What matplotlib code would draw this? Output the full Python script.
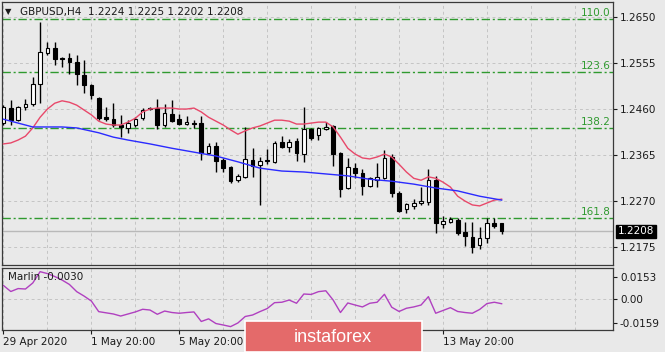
import numpy as np
import matplotlib
matplotlib.use('Agg')
import matplotlib.pyplot as plt
from matplotlib.patches import Rectangle

W, H = 665, 352
BG = '#e9e9e9'

# GBPUSD H4 candles, 29 Apr 20:00 .. 15 May 04:00
opens = [1.2431, 1.2462, 1.2437, 1.2464, 1.2470, 1.2512, 1.2576, 1.2586, 1.2565, 1.2565,
         1.2557, 1.2530, 1.2510, 1.2483, 1.2443, 1.2439, 1.2427, 1.2421, 1.2427, 1.2441,
         1.2462, 1.2462, 1.2427, 1.2450, 1.2439, 1.2429, 1.2431, 1.2431, 1.2369, 1.2384,
         1.2355, 1.2340, 1.2313, 1.2320, 1.2355, 1.2344, 1.2355, 1.2351, 1.2392, 1.2381,
         1.2394, 1.2367, 1.2419, 1.2406, 1.2419, 1.2425, 1.2369, 1.2297, 1.2338, 1.2328,
         1.2301, 1.2313, 1.2317, 1.2361, 1.2286, 1.2253, 1.2260, 1.2266, 1.2268, 1.2313,
         1.2223, 1.2227, 1.2231, 1.2206, 1.2196, 1.2179, 1.2194, 1.2225, 1.2224]
highs = [1.2468, 1.2479, 1.2466, 1.2481, 1.2526, 1.2640, 1.2598, 1.2598, 1.2567, 1.2576,
         1.2572, 1.2561, 1.2512, 1.2485, 1.2464, 1.2472, 1.2448, 1.2437, 1.2443, 1.2462,
         1.2464, 1.2481, 1.2470, 1.2479, 1.2450, 1.2446, 1.2437, 1.2446, 1.2390, 1.2392,
         1.2359, 1.2342, 1.2326, 1.2423, 1.2379, 1.2361, 1.2377, 1.2394, 1.2404, 1.2398,
         1.2400, 1.2464, 1.2421, 1.2423, 1.2433, 1.2427, 1.2371, 1.2359, 1.2348, 1.2336,
         1.2320, 1.2348, 1.2375, 1.2367, 1.2291, 1.2266, 1.2274, 1.2299, 1.2336, 1.2322,
         1.2239, 1.2237, 1.2235, 1.2227, 1.2227, 1.2216, 1.2235, 1.2235, 1.2225]
lows = [1.2427, 1.2427, 1.2435, 1.2458, 1.2466, 1.2472, 1.2572, 1.2551, 1.2547, 1.2532,
        1.2510, 1.2493, 1.2481, 1.2437, 1.2435, 1.2423, 1.2402, 1.2410, 1.2423, 1.2437,
        1.2458, 1.2419, 1.2423, 1.2433, 1.2427, 1.2427, 1.2421, 1.2355, 1.2367, 1.2330,
        1.2330, 1.2307, 1.2309, 1.2317, 1.2320, 1.2262, 1.2346, 1.2348, 1.2379, 1.2371,
        1.2353, 1.2351, 1.2396, 1.2396, 1.2417, 1.2342, 1.2278, 1.2295, 1.2317, 1.2282,
        1.2299, 1.2299, 1.2315, 1.2278, 1.2247, 1.2245, 1.2253, 1.2262, 1.2262, 1.2204,
        1.2214, 1.2225, 1.2200, 1.2177, 1.2163, 1.2171, 1.2183, 1.2214, 1.2202]
closes = [1.2464, 1.2437, 1.2464, 1.2470, 1.2512, 1.2578, 1.2586, 1.2563, 1.2563, 1.2557,
          1.2532, 1.2510, 1.2489, 1.2441, 1.2439, 1.2427, 1.2423, 1.2431, 1.2439, 1.2458,
          1.2460, 1.2427, 1.2452, 1.2435, 1.2429, 1.2433, 1.2430, 1.2369, 1.2384, 1.2353,
          1.2338, 1.2311, 1.2322, 1.2357, 1.2342, 1.2353, 1.2353, 1.2390, 1.2381, 1.2392,
          1.2369, 1.2419, 1.2400, 1.2421, 1.2423, 1.2367, 1.2295, 1.2340, 1.2328, 1.2301,
          1.2317, 1.2320, 1.2359, 1.2286, 1.2249, 1.2264, 1.2266, 1.2270, 1.2313, 1.2225,
          1.2229, 1.2233, 1.2204, 1.2198, 1.2175, 1.2194, 1.2225, 1.2218, 1.2208]

# fast MA (red), one value per bar
ma_fast = [1.2388, 1.2390, 1.2396, 1.2404, 1.2421, 1.2443, 1.2460, 1.2472, 1.2477, 1.2474,
           1.2468, 1.2458, 1.2448, 1.2435, 1.2429, 1.2427, 1.2427, 1.2433, 1.2441, 1.2454,
           1.2460, 1.2462, 1.2462, 1.2462, 1.2460, 1.2460, 1.2462, 1.2454, 1.2443, 1.2435,
           1.2427, 1.2417, 1.2408, 1.2415, 1.2421, 1.2425, 1.2431, 1.2437, 1.2437, 1.2435,
           1.2429, 1.2429, 1.2431, 1.2433, 1.2433, 1.2423, 1.2402, 1.2379, 1.2367, 1.2359,
           1.2357, 1.2361, 1.2367, 1.2361, 1.2346, 1.2330, 1.2317, 1.2313, 1.2320, 1.2317,
           1.2309, 1.2299, 1.2280, 1.2270, 1.2262, 1.2260, 1.2266, 1.2272, 1.2274]

# slow MA (blue), read at some bars
ma_slow_bars = [0, 4, 8, 10, 13, 15, 17, 20, 23, 26, 29, 32, 35, 38, 41, 44, 47, 50, 53, 56, 59, 62, 65, 68]
ma_slow = [1.2439, 1.2423, 1.2423, 1.2421, 1.2411, 1.2402, 1.2396, 1.2388, 1.2379, 1.2371,
           1.2363, 1.2351, 1.2338, 1.2332, 1.2330, 1.2326, 1.2322, 1.2315, 1.2311, 1.2305,
           1.2297, 1.2291, 1.2280, 1.2272]

marlin = [0.0094, 0.0053, 0.0073, 0.0070, 0.0111, 0.0188, 0.0175, 0.0155, 0.0131, 0.0101,
          0.0052, 0.0022, -0.0012, -0.0084, -0.0092, -0.0100, -0.0114, -0.0100, -0.0086, -0.0068,
          -0.0073, -0.0102, -0.0080, -0.0090, -0.0095, -0.0090, -0.0086, -0.0151, -0.0133, -0.0165,
          -0.0175, -0.0186, -0.0161, -0.0117, -0.0107, -0.0084, -0.0063, -0.0023, -0.0020, -0.0005,
          -0.0027, 0.0036, 0.0033, 0.0052, 0.0058, -0.0005, -0.0090, -0.0025, -0.0039, -0.0052,
          -0.0027, -0.0020, 0.0034, -0.0054, -0.0083, -0.0061, -0.0052, -0.0039, 0.0018, -0.0095,
          -0.0076, -0.0057, -0.0083, -0.0090, -0.0095, -0.0069, -0.0029, -0.0020, -0.0030]

fib_levels = [1.2645, 1.2536, 1.2421, 1.2235]
fib_labels = ['110.0', '123.6', '138.2', '161.8']
price_ticks = [1.2175, 1.2270, 1.2365, 1.2460, 1.2555, 1.2650]
last_price = 1.2208
osc_ticks = [-0.0159, 0.0, 0.0153]
osc_tick_labels = ['-0.0159', '0.00', '0.0153']
date_pos = [0, 12, 24, 36, 48, 60]
# 7 May / 11 May labels sit under the watermark, so they stay blank
date_labels = ['29 Apr 2020', '1 May 20:00', '5 May 20:00', '', '', '13 May 20:00']

plt.rcParams['font.family'] = ['DejaVu Sans']
FS = 7.5
TXT = '#1a1a1a'


def box(x0, y0, x1, y1):
    # pixel box (top-left origin) -> figure fraction rect
    return [x0 / W, 1 - y1 / H, (x1 - x0) / W, (y1 - y0) / H]


fig = plt.figure(figsize=(W / 100, H / 100), dpi=100, facecolor=BG)
ax = fig.add_axes(box(2, 2, 613, 265))
ax2 = fig.add_axes(box(2, 268, 613, 330))
xlim = (-0.2, 83.2)

for a in (ax, ax2):
    a.set_facecolor(BG)
    a.set_xlim(*xlim)
    for s in a.spines.values():
        s.set_color('#3a3a3a')
        s.set_linewidth(0.9)

# ---- price panel
o, h, l, c = (np.array(v) for v in (opens, highs, lows, closes))
x = np.arange(len(c))
up = c >= o

ax.vlines(x, l, h, color='black', lw=1, zorder=3)
ax.bar(x[up], c[up] - o[up], bottom=o[up], width=0.5, color='white',
       edgecolor='black', lw=0.8, zorder=4)
ax.bar(x[~up], c[~up] - o[~up], bottom=o[~up], width=0.5, color='black',
       edgecolor='black', lw=0.8, zorder=4)

ax.plot(x, ma_fast, color='#e8486a', lw=1, zorder=5)
ax.plot(ma_slow_bars, ma_slow, color='#2a2aff', lw=1, zorder=5)

for lvl, lab in zip(fib_levels, fib_labels):
    ax.axhline(lvl, color='#2f9a2f', lw=1, ls=(0, (6, 2, 1.5, 2)), zorder=2)
    ax.text(82.9, lvl + 0.0002, lab, color='#2f9a2f', fontsize=FS, ha='right', va='bottom')

ax.axhline(last_price, color='#b9b9b9', lw=1, zorder=1)

ax.set_ylim(1.2138, 1.2681)
ax.yaxis.tick_right()
ax.set_yticks(price_ticks)
ax.set_yticklabels([f'{v:.4f}' for v in price_ticks])
ax.tick_params(axis='y', length=3, width=0.8, pad=2, labelsize=FS, colors=TXT)
ax.set_xticks(range(0, 84, 6))
ax.tick_params(axis='x', length=0, labelbottom=False)
ax.grid(True, ls=(0, (3, 3)), color='#c4c4c4', lw=0.7, zorder=0)
ax.set_axisbelow(True)

ax.annotate(f'{last_price:.4f}', xy=(1, last_price), xycoords=('axes fraction', 'data'),
            xytext=(3.5, 0), textcoords='offset points', va='center', ha='left',
            color='white', fontsize=FS, annotation_clip=False,
            bbox=dict(boxstyle='square,pad=0.15', fc='black', ec='black'))

fig.text(5 / W, 1 - 12 / H, '\u25bc', fontsize=6, color=TXT, va='center')
fig.text(20 / W, 1 - 12 / H, 'GBPUSD,H4  1.2224 1.2225 1.2202 1.2208',
         fontsize=FS, color=TXT, va='center')

# ---- oscillator panel
ax2.plot(x, marlin, color='#b040c0', lw=1)
ax2.axhline(0, ls=(0, (3, 3)), color='#c4c4c4', lw=0.7, zorder=0)
ax2.set_ylim(-0.0209, 0.0213)
ax2.yaxis.tick_right()
ax2.set_yticks(osc_ticks)
ax2.set_yticklabels(osc_tick_labels)
ax2.tick_params(axis='y', length=3, width=0.8, pad=2, labelsize=FS, colors=TXT)
ax2.set_xticks(date_pos)
ax2.set_xticklabels(date_labels, ha='left')
ax2.set_xticks(range(6, 84, 12), minor=True)
ax2.tick_params(axis='x', which='major', length=3, width=0.8, pad=2, labelsize=FS, colors=TXT)
ax2.tick_params(axis='x', which='minor', length=0)
ax2.grid(True, axis='x', which='both', ls=(0, (3, 3)), color='#c4c4c4', lw=0.7)
ax2.set_axisbelow(True)
ax2.text(0.01, 0.86, 'Marlin -0.0030', transform=ax2.transAxes, fontsize=FS,
         color=TXT, va='center')

# ---- watermark
fig.add_artist(Rectangle((245 / W, 0), (422 - 245) / W, (352 - 321) / H,
                         transform=fig.transFigure, fc='#e46a6a', ec='white', lw=1.2, zorder=10))
fig.text(333 / W, 1 - 337 / H, 'instaforex', color='white', fontsize=13,
         family='Liberation Sans', ha='center', va='center', zorder=11)

fig.savefig('out.png', dpi=100, facecolor=BG)
